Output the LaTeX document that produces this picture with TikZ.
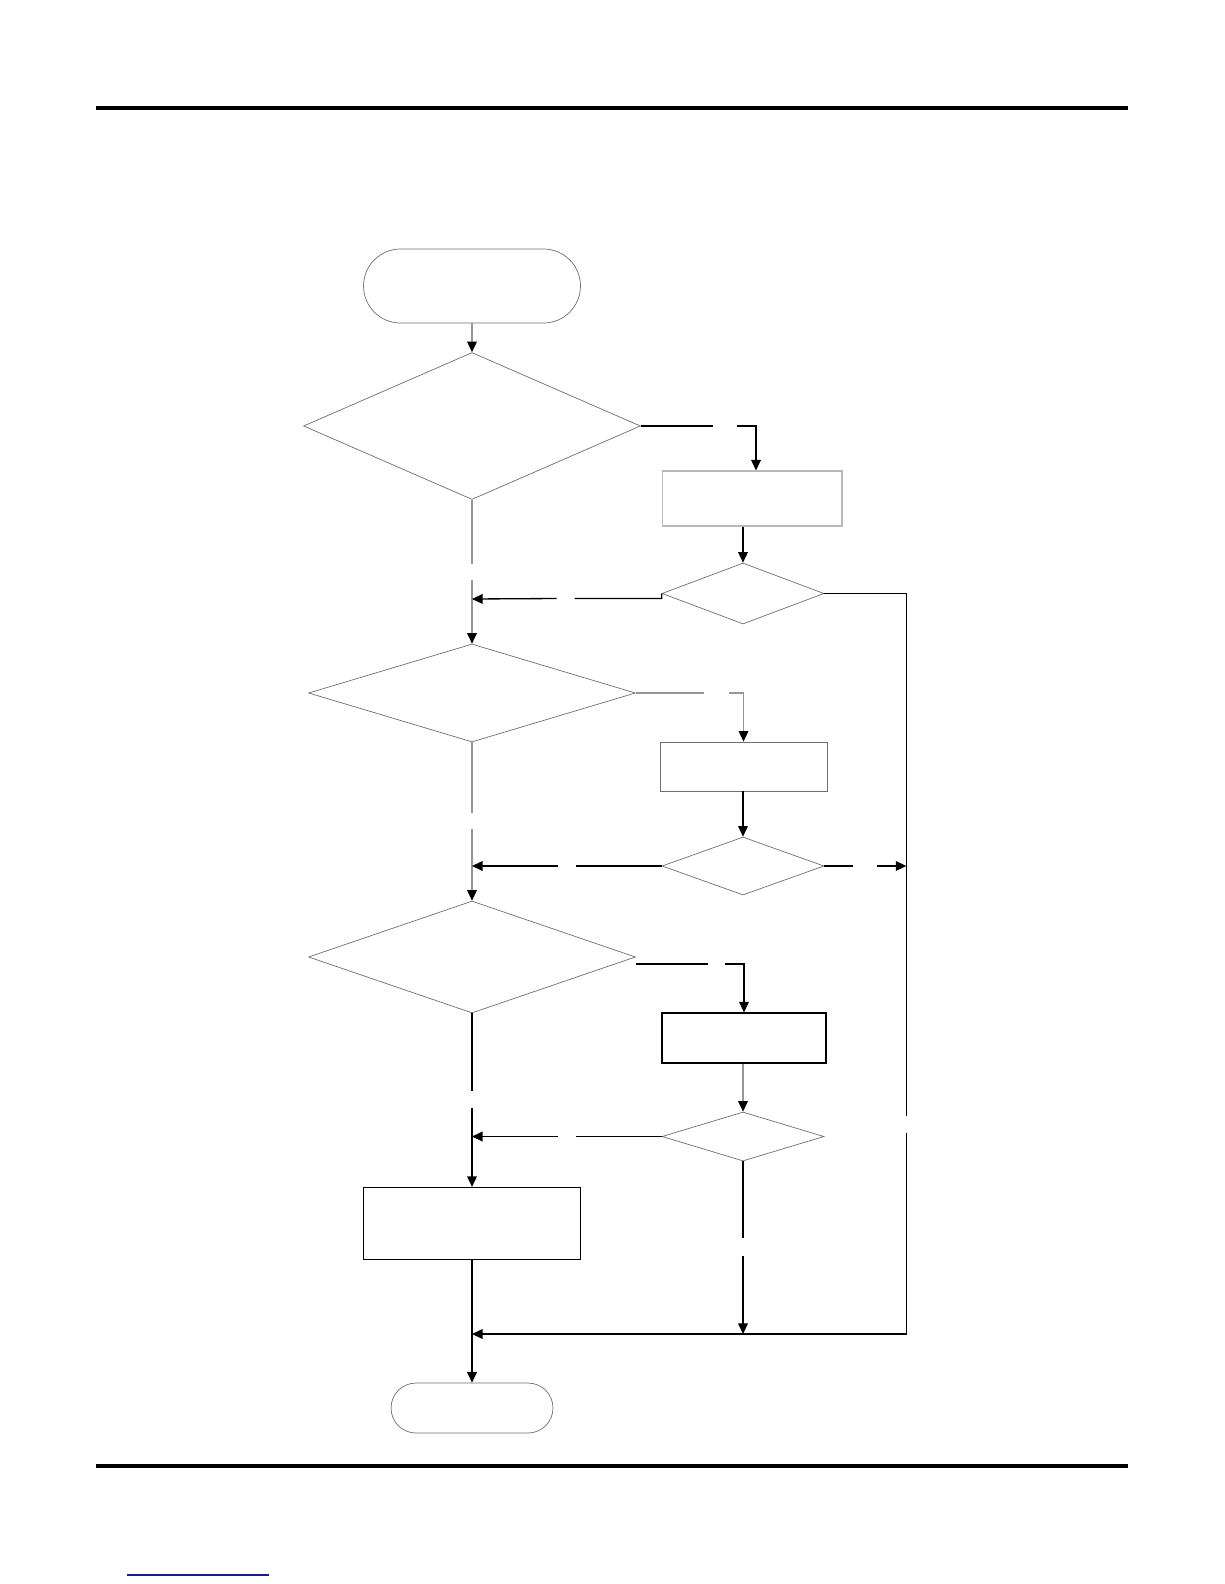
\documentclass[tikz,border=0pt]{standalone}
\usetikzlibrary{positioning, arrows.meta, calc, shapes.geometric}
\definecolor{shpgray}{RGB}{110, 110, 110}
\definecolor{boxlight}{RGB}{185, 185, 185}
\definecolor{connlight}{RGB}{150, 150, 150}
\definecolor{linkblue}{RGB}{25, 25, 150}

\begin{document}
\begin{tikzpicture}[
  x=0.02cm, y=-0.02cm,
  term/.style={
    rectangle, draw=shpgray, line width=0.4pt, inner sep=0pt,
  },
  dec/.style={
    diamond, draw=shpgray, line width=0.4pt, inner sep=0pt,
  },
  proc/.style={rectangle, inner sep=0pt},
  arr/.style={-{Triangle[length=6pt, width=5.5pt]}, black, line width=0.75pt},
  arrg/.style={-{Triangle[length=6pt, width=5.5pt, color=black]}, draw=connlight, line width=0.75pt},
]

\useasboundingbox (0,0) rectangle (1224,1584);

% Page rules
\draw[line width=2.3pt] (96,108) -- (1128,108);
\draw[line width=2.3pt] (96,1466) -- (1128,1466);
\draw[linkblue, line width=0.8pt] (127,1575) -- (269,1575);

% Terminals and main box
\node[term, rounded corners=0.74cm, minimum width=4.34cm, minimum height=1.48cm]
  (start) at (472,286) {};
\node[term, rounded corners=0.5cm, minimum width=3.24cm, minimum height=1cm]
  (stop) at (472,1408) {};
\node[proc, draw=black, line width=0.7pt, minimum width=4.34cm, minimum height=1.44cm]
  (act) at (472,1223.5) {};

% Decisions, left column
\foreach \i/\y/\w/\h in {1/426/6.74/2.94, 2/693/6.54/1.96, 3/957/6.54/2.24}{
  \node[dec, minimum width=\w cm, minimum height=\h cm] (dl\i) at (472,\y) {};
}

% Boxes and checks, right column
\foreach \i/\x/\y/\w/\h/\col/\lw in {
  1/752/498.5/3.6/1.1/boxlight/0.6,
  2/743.5/766.5/3.34/0.98/shpgray/0.45,
  3/744/1038/3.28/1/black/0.7%
}{
  \node[proc, draw=\col, line width=\lw pt, minimum width=\w cm, minimum height=\h cm]
    (br\i) at (\x,\y) {};
}
\foreach \i/\y/\h in {1/593.5/1.22, 2/866/1.16, 3/1136.5/0.98}{
  \node[dec, minimum width=3.24cm, minimum height=\h cm] (ds\i) at (743,\y) {};
}

% Merge points
\coordinate (m1) at (472,599);
\coordinate (m2) at (dl1.south |- ds2.west);
\coordinate (m3) at (dl1.south |- ds3.west);
\coordinate (m4) at (472,1334);
\coordinate (r1) at ($(ds1.east)+(82,0)$);
\coordinate (r2) at (r1 |- m4);

% Main column
\draw[arrg] (start.south) -- (dl1.north);
\draw[arrg] (dl1.south) -- ++(0,64) ++(0,16) -- (dl2.north);
\draw[arrg] (dl2.south) -- ++(0,71) ++(0,16) -- (dl3.north);
\draw[arr] (dl3.south) -- ++(0,78) ++(0,17) -- (act.north);
\draw[arr] (act.south) -- (stop.north);

% Branches to the right
\draw[arr] (dl1.east) -- ++(72,0) ++(24,0) -| ($(br1.north)+(4,0)$);
\draw[arrg] (dl2.east) -- ++(68,0) ++(25,0) -| (br2.north);
\draw[arr] ($(dl3.east)+(0,7)$) -- ++(72,0) ++(17,0) -| (br3.north);

\draw[arr] (ds1.north |- br1.south) -- (ds1.north);
\draw[arr] (ds2.north |- br2.south) -- (ds2.north);
\draw[arrg] (ds3.north |- br3.south) -- (ds3.north);

% Back to the main column
\draw[arr] (ds1.west) -- ++(0,5) -- ++(-87,0) ++(-18,0) -- (m1);
\draw[arr] (ds2.west) -- ++(-86,0) ++(-18,0) -- (m2);
\draw[arr] (ds3.west) -- ++(-86,0) ++(-18,0) -- (m3);

% Right loop
\draw[arr] (ds1.east) -- (r1) -- ++(0,522) ++(0,17) -- (r2) -- (m4);
\draw[arr] (ds2.east) -- ++(29,0) ++(24,0) -- (r1 |- ds2.east);
\draw[arr] (ds3.south) -- ++(0,77) ++(0,18) -- (ds3.south |- m4);

\end{tikzpicture}
\end{document}
